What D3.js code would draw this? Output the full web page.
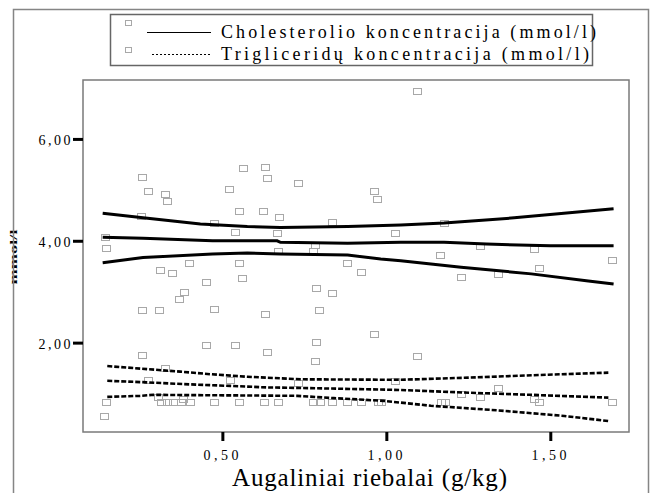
<!DOCTYPE html>
<html>
<head>
<meta charset="utf-8">
<script src="https://cdn.jsdelivr.net/npm/d3@7"></script>
<style>
  body { margin: 0; background: #fff; }
  svg { display: block; }
  text { font-family: "Liberation Serif", "Times New Roman", serif; }
</style>
</head>
<body>
<svg id="chart" width="651" height="493"></svg>
<script>
// scatter points [x, y]
var cholPoints = [
  [0.254,5.26],[0.562,5.43],[0.631,5.45],[0.637,5.23],[0.272,4.98],[0.324,4.92],[0.331,4.79],
  [0.520,5.02],[0.730,5.13],[0.961,4.98],[0.973,4.83],[0.253,4.49],[0.551,4.58],[0.625,4.58],
  [0.672,4.47],[0.476,4.35],[0.835,4.37],[0.539,4.17],[0.667,4.15],[1.026,4.15],[0.141,4.08],
  [0.144,3.86],[0.782,3.92],[0.776,3.79],[0.671,3.79],[0.399,3.57],[0.552,3.57],[0.881,3.57],
  [0.311,3.42],[0.347,3.37],[0.922,3.39],[0.451,3.20],[0.561,3.26],[1.095,6.95],[1.177,4.35],
  [1.286,3.89],[1.450,3.84],[1.165,3.72],[1.687,3.62],[1.466,3.46],[1.228,3.29],[1.340,3.35],
  [0.382,2.99],[0.369,2.85],[0.787,3.08],[0.835,2.97],[0.254,2.64],[0.306,2.64],[0.475,2.66],
  [0.631,2.56],[0.794,2.64],[0.962,2.17],[0.451,1.96],[0.539,1.96],[0.787,2.01],[0.637,1.81],
  [0.254,1.75],[0.783,1.64],[1.095,1.74]
];
var trigPoints = [
  [0.324,1.51],[0.273,1.26],[0.522,1.26],[0.732,1.20],[1.026,1.24],[1.228,0.99],[1.287,0.94],
  [1.340,1.11],[1.450,0.89],[0.380,0.89],[0.139,0.56],[0.305,0.94],
  [0.144,0.84],[0.313,0.84],[0.331,0.84],[0.349,0.84],[0.375,0.84],[0.400,0.84],[0.475,0.84],
  [0.552,0.84],[0.626,0.84],[0.670,0.84],[0.777,0.84],[0.797,0.84],[0.835,0.84],[0.881,0.84],
  [0.922,0.84],[0.975,0.84],[0.983,0.84],[1.167,0.84],[1.179,0.84],[1.467,0.84],[1.687,0.84]
];

// fit lines with confidence bands
var cholUpper = [[0.135,4.54],[0.258,4.45],[0.433,4.33],[0.576,4.28],[0.677,4.26],[0.882,4.28],
  [1.044,4.31],[1.176,4.35],[1.39,4.45],[1.693,4.63]];
var cholMid = [[0.135,4.07],[0.258,4.05],[0.47,4.00],[0.667,4.00],[0.677,3.97],[0.882,3.95],
  [1.044,3.97],[1.176,3.97],[1.305,3.935],[1.50,3.90],[1.693,3.90]];
var cholLower = [[0.135,3.57],[0.258,3.67],[0.47,3.74],[0.576,3.76],[0.677,3.74],[0.882,3.72],
  [0.983,3.64],[1.044,3.61],[1.228,3.48],[1.442,3.35],[1.616,3.21],[1.693,3.15]];
var trigUpper = [[0.149,1.54],[0.27,1.48],[0.372,1.43],[0.463,1.38],[0.576,1.33],[0.739,1.28],
  [1.044,1.27],[1.237,1.31],[1.494,1.37],[1.677,1.41]];
var trigMid = [[0.149,1.25],[0.27,1.22],[0.402,1.18],[0.524,1.15],[0.637,1.12],[0.739,1.11],
  [1.044,1.07],[1.237,1.02],[1.442,0.975],[1.677,0.92]];
var trigLower = [[0.149,0.935],[0.249,0.955],[0.29,0.975],[0.728,0.955],[0.84,0.91],[0.993,0.856],
  [1.136,0.76],[1.34,0.67],[1.543,0.56],[1.677,0.46]];

var xTicks = [0.5, 1.0, 1.5];
var yTicks = [2, 4, 6];
var legendLabels = ["Cholesterolio koncentracija (mmol/l)", "Trigliceridų koncentracija (mmol/l)"];
var xTitle = "Augaliniai riebalai (g/kg)";
var yTitle = "mmol/l";

(function () {
  var svg = d3.select("#chart");
  var left = 83, right = 629, top = 80, bottom = 432;

  var x = d3.scaleLinear().domain([0.075, 1.74]).range([left, right]);
  var y = d3.scaleLinear().domain([0.245, 7.157]).range([bottom, top]);
  var fmt = function (d) { return d3.format(".2f")(d).replace(".", ","); };

  // y title (partly under the outer frame line)
  svg.append("text")
    .attr("transform", "translate(17,257) rotate(-90)")
    .attr("text-anchor", "middle")
    .attr("font-size", 10)
    .attr("font-weight", "bold")
    .attr("textLength", 55)
    .attr("lengthAdjust", "spacingAndGlyphs")
    .text(yTitle);

  // outer frame
  svg.append("path")
    .attr("d", "M13.5,493 V9.5 H648.5 V493")
    .attr("fill", "none").attr("stroke", "#858585").attr("stroke-width", 1.5);

  // plot box
  svg.append("rect")
    .attr("x", left).attr("y", top)
    .attr("width", right - left).attr("height", bottom - top)
    .attr("fill", "none").attr("stroke", "#7a7a7a").attr("stroke-width", 1.5);

  // points
  var pts = cholPoints.concat(trigPoints);
  svg.append("g").selectAll("rect")
    .data(pts)
    .enter()
    .append("rect")
    .attr("x", function (d) { return Math.round(x(d[0])) - 4 + 0.5; })
    .attr("y", function (d) { return Math.round(y(d[1])) - 3 + 0.5; })
    .attr("width", 8).attr("height", 6)
    .attr("fill", "none").attr("stroke", "#a8a8a8").attr("stroke-width", 1);

  var line = d3.line()
    .x(function (d) { return x(d[0]); })
    .y(function (d) { return y(d[1]); });

  [cholUpper, cholMid, cholLower].forEach(function (s) {
    svg.append("path").attr("d", line(s))
      .attr("fill", "none").attr("stroke", "#000").attr("stroke-width", 3);
  });
  [trigUpper, trigMid, trigLower].forEach(function (s) {
    svg.append("path").attr("d", line(s))
      .attr("fill", "none").attr("stroke", "#000").attr("stroke-width", 2.6)
      .attr("stroke-dasharray", "5,2");
  });

  // axes
  var gy = svg.append("g")
    .attr("transform", "translate(" + left + ",0)")
    .call(d3.axisLeft(y).tickValues(yTicks).tickFormat(fmt).tickSize(10).tickPadding(0));
  gy.select(".domain").remove();
  gy.selectAll("line").attr("stroke", "#000").attr("stroke-width", 3);
  gy.selectAll("text")
    .attr("font-family", "Liberation Serif").attr("font-size", 14)
    .attr("letter-spacing", 2.5).attr("dy", "0.42em");

  var gx = svg.append("g")
    .attr("transform", "translate(0," + bottom + ")")
    .call(d3.axisBottom(x).tickValues(xTicks).tickFormat(fmt).tickSize(9).tickPadding(9));
  gx.select(".domain").remove();
  gx.selectAll("line").attr("stroke", "#000").attr("stroke-width", 3);
  gx.selectAll("text")
    .attr("font-family", "Liberation Serif").attr("font-size", 14)
    .attr("letter-spacing", 3.5);

  svg.append("text")
    .attr("x", 232).attr("y", 486)
    .attr("font-size", 25)
    .attr("textLength", 275)
    .attr("lengthAdjust", "spacing")
    .text(xTitle);

  // legend
  svg.append("rect")
    .attr("x", 110.5).attr("y", 14.5).attr("width", 482).attr("height", 51)
    .attr("fill", "none").attr("stroke", "#666").attr("stroke-width", 1.5);

  var legRows = [
    { label: legendLabels[0], ly: 32.5, dash: null, x1: 147, x2: 211, len: 375, my: 20.5 },
    { label: legendLabels[1], ly: 54.5, dash: "2,2", x1: 152, x2: 210, len: 368, my: 47.5 }
  ];
  var leg = svg.append("g").selectAll("g").data(legRows).enter().append("g");
  leg.append("rect")
    .attr("x", 125.5).attr("y", function (d) { return d.my; })
    .attr("width", 6).attr("height", 5)
    .attr("fill", "none").attr("stroke", "#a8a8a8");
  leg.append("line")
    .attr("x1", function (d) { return d.x1; }).attr("x2", function (d) { return d.x2; })
    .attr("y1", function (d) { return d.ly; }).attr("y2", function (d) { return d.ly; })
    .attr("stroke", "#000").attr("stroke-width", 1)
    .attr("stroke-dasharray", function (d) { return d.dash; });
  leg.append("text")
    .attr("x", 221).attr("y", function (d) { return d.ly + 5; })
    .attr("font-size", 18)
    .attr("textLength", function (d) { return d.len; })
    .attr("lengthAdjust", "spacing")
    .text(function (d) { return d.label; });
})();
</script>
</body>
</html>
